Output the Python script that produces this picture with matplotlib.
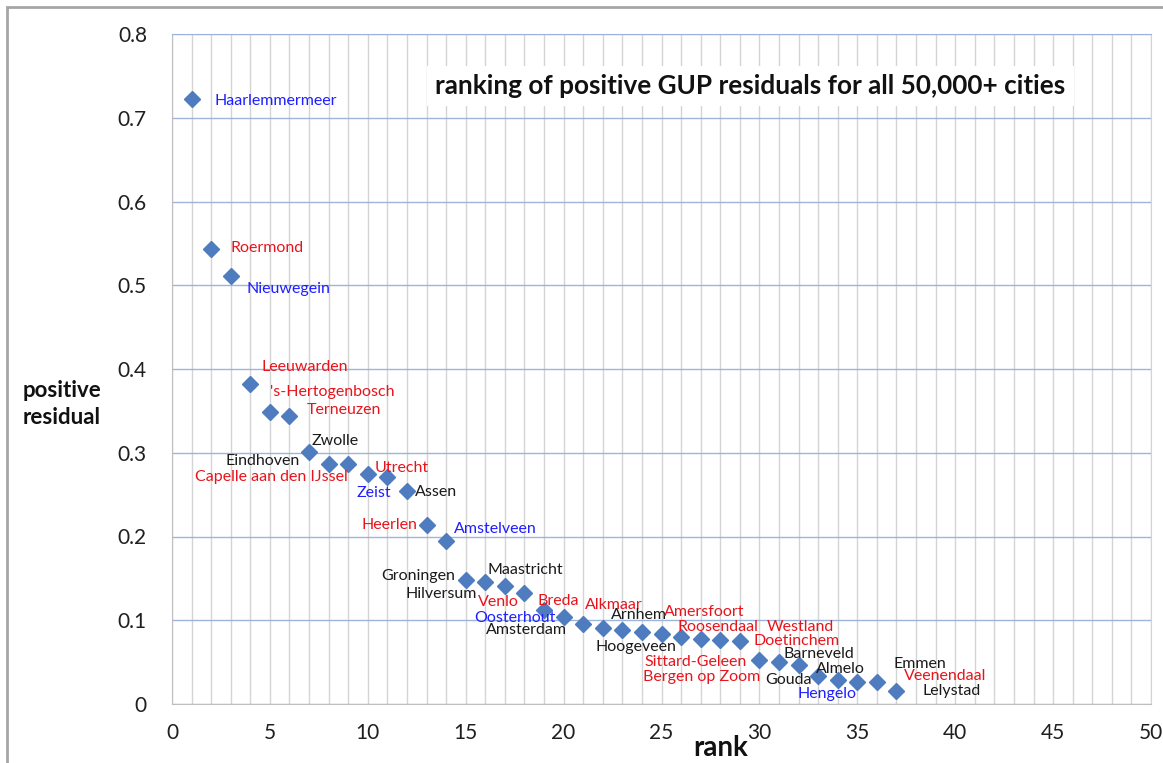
import matplotlib.pyplot as plt
from matplotlib.patches import Rectangle
from matplotlib.ticker import MultipleLocator

# ranks and residuals
rank = list(range(1, 38))
residual = [0.722, 0.543, 0.511, 0.382, 0.349, 0.344, 0.301, 0.287, 0.287, 0.275,
            0.271, 0.254, 0.214, 0.195, 0.148, 0.146, 0.141, 0.133, 0.112, 0.104,
            0.096, 0.091, 0.088, 0.086, 0.084, 0.080, 0.078, 0.076, 0.075, 0.053,
            0.050, 0.047, 0.033, 0.029, 0.026, 0.026, 0.016]

# city labels, where they sit and their colour
cities = ['Haarlemmermeer', 'Roermond', 'Nieuwegein', 'Leeuwarden', "'s-Hertogenbosch",
          'Terneuzen', 'Zwolle', 'Eindhoven', 'Capelle aan den IJssel', 'Utrecht',
          'Zeist', 'Assen', 'Heerlen', 'Amstelveen', 'Groningen', 'Maastricht',
          'Hilversum', 'Venlo', 'Breda', 'Oosterhout', 'Amsterdam', 'Alkmaar',
          'Arnhem', 'Amersfoort', 'Hoogeveen', 'Roosendaal', 'Westland', 'Doetinchem',
          'Sittard-Geleen', 'Barneveld', 'Bergen op Zoom', 'Almelo', 'Gouda',
          'Hengelo', 'Emmen', 'Veenendaal', 'Lelystad']
label_x = [2.15, 2.97, 3.83, 4.55, 5.01, 6.90, 7.11, 2.71, 1.18, 10.33,
           9.41, 12.42, 9.67, 14.42, 10.68, 16.11, 11.91, 15.64, 18.66, 15.44,
           16.05, 21.11, 22.44, 25.15, 21.63, 25.82, 30.37, 29.70, 24.13, 31.24,
           24.08, 32.87, 30.32, 31.95, 36.86, 37.37, 38.34]
label_y = [0.720, 0.545, 0.496, 0.402, 0.373, 0.351, 0.314, 0.290, 0.271, 0.282,
           0.252, 0.253, 0.214, 0.209, 0.153, 0.160, 0.131, 0.122, 0.123, 0.103,
           0.088, 0.118, 0.106, 0.110, 0.068, 0.092, 0.092, 0.075, 0.050, 0.060,
           0.032, 0.042, 0.029, 0.012, 0.048, 0.033, 0.015]
label_color = ['b', 'r', 'b', 'r', 'r', 'r', 'k', 'k', 'r', 'r',
               'b', 'k', 'r', 'b', 'k', 'k', 'k', 'r', 'r', 'b',
               'k', 'r', 'k', 'r', 'k', 'r', 'r', 'r', 'r', 'k',
               'r', 'k', 'k', 'b', 'k', 'r', 'k']
colors = {'r': '#e8141c', 'b': '#1f1fff', 'k': '#1a1a1a'}

y_ticks = [0, 0.1, 0.2, 0.3, 0.4, 0.5, 0.6, 0.7, 0.8]
y_tick_labels = ['0', '0.1', '0.2', '0.3', '0.4', '0.5', '0.6', '0.7', '0.8']
x_ticks = [0, 5, 10, 15, 20, 25, 30, 35, 40, 45, 50]

plt.rcParams['font.family'] = ['Lato', 'DejaVu Sans']

fig = plt.figure(figsize=(11.63, 7.63), dpi=100)
fig.patches.append(Rectangle((7 / 1163, -0.1), 1.2, 1.1 - 7 / 763, transform=fig.transFigure,
                             fill=False, edgecolor='#a6a6a6', linewidth=2))
ax = fig.add_axes([172 / 1163, 1 - 704 / 763, 979 / 1163, 670 / 763])

ax.set_xlim(0, 50)
ax.set_ylim(0, 0.8)
ax.xaxis.set_minor_locator(MultipleLocator(1))
ax.set_xticks(x_ticks)
ax.set_yticks(y_ticks)
ax.set_yticklabels(y_tick_labels)
ax.grid(which='minor', axis='x', color='#d4d4d4', linewidth=1)
ax.grid(which='major', axis='x', color='#d4d4d4', linewidth=1)
ax.grid(which='major', axis='y', color='#9fb4dc', linewidth=1)
ax.set_axisbelow(True)
ax.tick_params(which='both', length=0, labelsize=15, colors='#1f1f1f')
ax.tick_params(axis='x', pad=14)
ax.tick_params(axis='y', pad=18)
for side in ['left', 'bottom']:
    ax.spines[side].set_color('#bfbfbf')
ax.spines['top'].set_color('#9fb4dc')
ax.spines['right'].set_color('#d4d4d4')

ax.plot(rank, residual, 'D', color='#4f7bbf', markersize=8.5, linestyle='none', zorder=3)

for name, lx, ly, c in zip(cities, label_x, label_y, label_color):
    ax.text(lx, ly, name, color=colors[c], fontsize=11.5, ha='left', va='center', zorder=4)

ax.text(263 / 979, (704 - 86) / 670, 'ranking of positive GUP residuals for all 50,000+ cities',
        transform=ax.transAxes, fontsize=18.8, fontweight='bold', ha='left', va='center',
        color='#111111', bbox=dict(facecolor='white', edgecolor='none', pad=6))

fig.text(62 / 1163, 1 - 404 / 763, 'positive\nresidual', fontsize=16, fontweight='bold',
         ha='center', va='center', linespacing=1.3, color='#111111')
fig.text(721 / 1163, 1 - 748 / 763, 'rank', fontsize=20, fontweight='bold',
         ha='center', va='center', color='#111111')

fig.savefig('out.png', dpi=100)
